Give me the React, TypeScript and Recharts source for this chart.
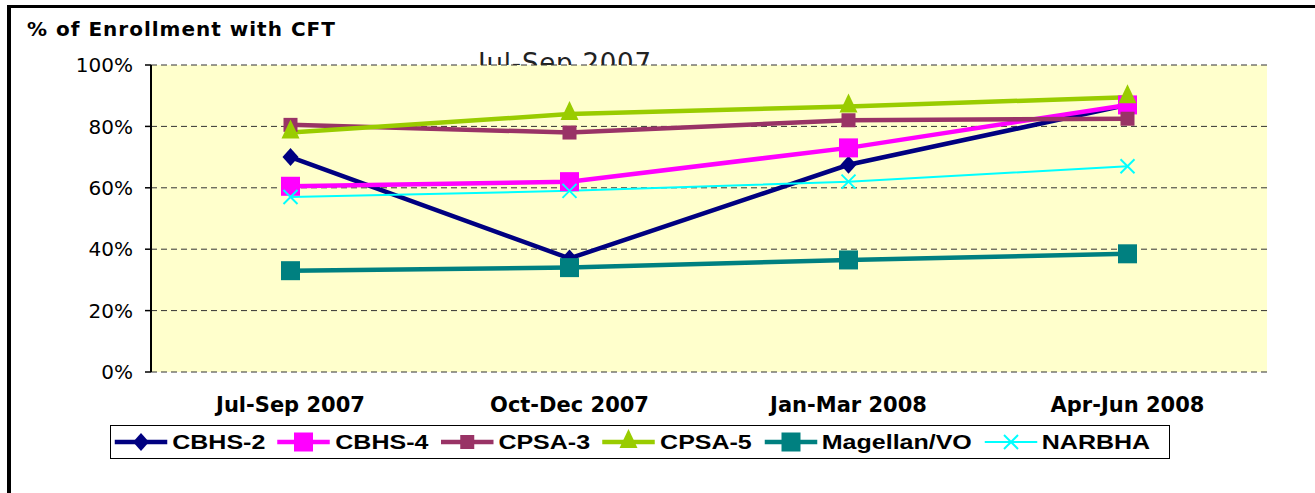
import { LineChart, Line, XAxis, YAxis, CartesianGrid } from 'recharts';

const quarters = ['Jul-Sep 2007', 'Oct-Dec 2007', 'Jan-Mar 2008', 'Apr-Jun 2008'];
const cbhs2 = [70, 37, 67.5, 87];
const cbhs4 = [60.5, 62, 73, 87];
const cpsa3 = [80.5, 78, 82, 82.5];
const cpsa5 = [78, 84, 86.5, 89.5];
const magellan = [33, 34, 36.5, 38.5];
const narbha = [57, 59, 62, 67];
const yTicks = [0, 20, 40, 60, 80, 100];
const gridTicks = [0, 1, 2, 3, 4];

type Shape = 'diamond' | 'square' | 'smallSquare' | 'triangle' | 'x';

const series: { key: string; name: string; color: string; width: number; shape: Shape; values: number[] }[] = [
  { key: 'cbhs2', name: 'CBHS-2', color: '#000080', width: 4.5, shape: 'diamond', values: cbhs2 },
  { key: 'cbhs4', name: 'CBHS-4', color: '#FF00FF', width: 4.5, shape: 'square', values: cbhs4 },
  { key: 'cpsa3', name: 'CPSA-3', color: '#993366', width: 4.5, shape: 'smallSquare', values: cpsa3 },
  { key: 'cpsa5', name: 'CPSA-5', color: '#99CC00', width: 4.5, shape: 'triangle', values: cpsa5 },
  { key: 'magellan', name: 'Magellan/VO', color: '#008080', width: 4.5, shape: 'square', values: magellan },
  { key: 'narbha', name: 'NARBHA', color: '#00FFFF', width: 2, shape: 'x', values: narbha },
];

const data = quarters.map((q, i) => {
  const row: Record<string, any> = { name: q };
  series.forEach((s) => {
    row[s.key] = s.values[i];
  });
  return row;
});

const FONT = '"DejaVu Sans", Verdana, sans-serif';
const LEGEND_FONT = '"Liberation Sans", Arial, sans-serif';
const STRETCH = 1.25; // legend text in the original is stretched sideways

const Marker = ({ cx, cy, shape, color }: { cx: number; cy: number; shape: Shape; color: string }) => {
  if (cx == null || cy == null) return null;
  switch (shape) {
    case 'diamond':
      return <polygon points={`${cx},${cy - 9} ${cx + 8},${cy} ${cx},${cy + 9} ${cx - 8},${cy}`} fill={color} />;
    case 'square':
      return <rect x={cx - 9.5} y={cy - 9.5} width={19} height={19} fill={color} />;
    case 'smallSquare':
      return <rect x={cx - 7} y={cy - 7} width={14} height={14} fill={color} />;
    case 'triangle':
      return <polygon points={`${cx},${cy - 13} ${cx + 9},${cy + 6} ${cx - 9},${cy + 6}`} fill={color} />;
    case 'x':
      return (
        <g stroke={color} strokeWidth={2}>
          <line x1={cx - 7} y1={cy - 7} x2={cx + 7} y2={cy + 7} />
          <line x1={cx - 7} y1={cy + 7} x2={cx + 7} y2={cy - 7} />
        </g>
      );
  }
  return null;
};

const LegendBox = () => (
  <div
    style={{
      position: 'absolute',
      left: 110,
      top: 425,
      width: 1058,
      height: 32,
      border: '1px solid #000',
      background: '#fff',
      overflow: 'hidden',
    }}
  >
    <div
      style={{
        display: 'flex',
        alignItems: 'center',
        height: 32,
        transform: `scaleX(${STRETCH})`,
        transformOrigin: 'left center',
        whiteSpace: 'nowrap',
        fontFamily: LEGEND_FONT,
        fontWeight: 'bold',
        fontSize: 20,
        paddingLeft: 2,
      }}
    >
      {series.map((s) => (
        <div key={s.key} style={{ display: 'flex', alignItems: 'center', marginRight: 9 }}>
          <svg width={44} height={26}>
            <line x1={1} y1={13} x2={43} y2={13} stroke={s.color} strokeWidth={s.width} />
            <g transform={`translate(22 13) scale(${1 / STRETCH} 1)`}>
              <Marker cx={0} cy={0} shape={s.shape} color={s.color} />
            </g>
          </svg>
          <span style={{ marginLeft: 3 }}>{s.name}</span>
        </div>
      ))}
    </div>
  </div>
);

export default function App() {
  return (
    <div
      style={{
        position: 'absolute',
        left: 0,
        top: 0,
        width: 1315,
        height: 493,
        overflow: 'hidden',
        background: '#fff',
      }}
    >
      <div
        style={{
          position: 'absolute',
          left: 7,
          top: 5,
          width: 1400,
          height: 600,
          borderLeft: '4px solid #000',
          borderTop: '3px solid #000',
        }}
      />
      <div
        style={{
          position: 'absolute',
          left: 27,
          top: 17,
          fontFamily: FONT,
          fontWeight: 'bold',
          fontSize: 20,
          letterSpacing: 1,
          color: '#000',
          whiteSpace: 'nowrap',
        }}
      >
        % of Enrollment with CFT
      </div>
      <div
        style={{
          position: 'absolute',
          left: 478,
          top: 48,
          fontFamily: FONT,
          fontSize: 26,
          letterSpacing: 0.8,
          color: '#222',
          whiteSpace: 'nowrap',
        }}
      >
        Jul-Sep 2007
      </div>
      <div style={{ position: 'absolute', left: 0, top: 0 }}>
        <LineChart width={1315} height={493} data={data} margin={{ top: 65, right: 48, left: 91, bottom: 76 }}>
          <CartesianGrid vertical={false} fill="#FFFFCC" fillOpacity={1} stroke="#333" strokeDasharray="6 4" />
          <XAxis
            xAxisId="grid"
            type="number"
            domain={[0, 4]}
            ticks={gridTicks}
            allowDataOverflow
            height={0}
            tick={false}
            tickSize={6}
            stroke="#333"
            axisLine={{ stroke: '#333', strokeWidth: 1.5 }}
          />
          <XAxis
            dataKey="name"
            height={45}
            axisLine={false}
            tickLine={false}
            tickSize={6}
            tickMargin={19}
            padding={{ left: 139.5, right: 139.5 }}
            tick={{ fill: '#000', fontSize: 21, fontWeight: 'bold', fontFamily: FONT }}
            interval={0}
          />
          <YAxis
            width={60}
            domain={[0, 100]}
            ticks={yTicks}
            tickFormatter={(v) => `${v}%`}
            tickSize={6}
            tickMargin={12}
            axisLine={{ stroke: '#000', strokeWidth: 2 }}
            tickLine={{ stroke: '#000', strokeWidth: 1.5 }}
            tick={{ fill: '#000', fontSize: 20, fontFamily: FONT }}
          />
          {series.map((s) => (
            <Line
              key={s.key}
              dataKey={s.key}
              name={s.name}
              type="linear"
              stroke={s.color}
              strokeWidth={s.width}
              isAnimationActive={false}
              dot={(p: any) => <Marker key={`${s.key}-${p.index}`} cx={p.cx} cy={p.cy} shape={s.shape} color={s.color} />}
              activeDot={false}
            />
          ))}
        </LineChart>
      </div>
      <LegendBox />
    </div>
  );
}
